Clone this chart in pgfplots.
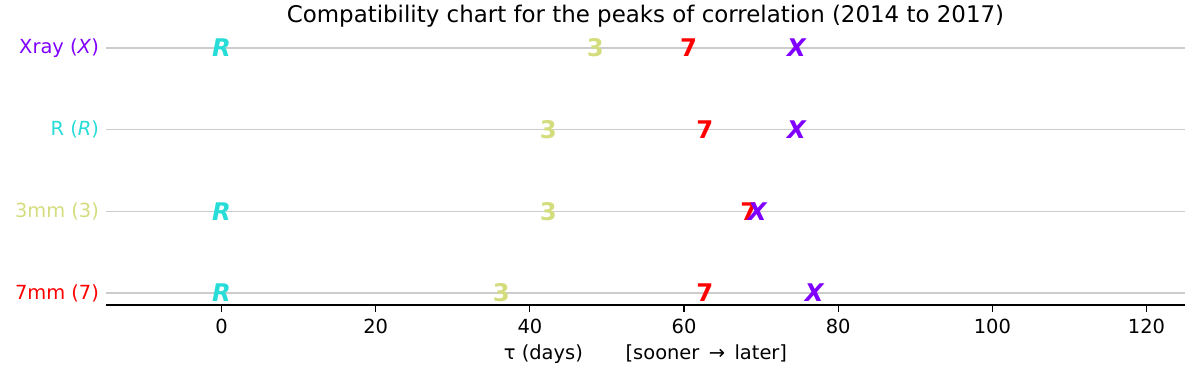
\documentclass[border=0pt]{standalone}
\usepackage{fontspec}
\setmainfont{DejaVu Sans}
\usepackage{pgfplots}
\pgfplotsset{compat=1.18}
\usetikzlibrary{calc}

\definecolor{cX}{HTML}{8000FF}
\definecolor{cR}{HTML}{28DDD8}
\definecolor{c3}{HTML}{D4DD7E}
\definecolor{c7}{HTML}{FF0000}
\newcommand{\mk}[2]{\textcolor{#1}{\fontsize{17.5}{17.5}\selectfont\bfseries #2}}

\begin{document}
\begin{tikzpicture}
\begin{axis}[
    name=ax,
    scale only axis,
    width=776.9pt, height=196.8pt,
    xmin=-15, xmax=125,
    ymin=-0.147, ymax=3.2,
    axis x line*=bottom,
    x axis line style={-, line width=0.9pt},
    axis y line*=left,
    y axis line style={draw=none},
    ytick={0,1,2,3},
    yticklabels={\textcolor{c7}{7mm (7)}, \textcolor{c3}{3mm (3)}, \textcolor{cR}{R (\textit{R})}, \textcolor{cX}{Xray (\textit{X})}},
    ytick style={draw=none},
    xtick={0,20,...,120},
    tick align=outside,
    major tick length=5pt,
    xtick style={black, line width=0.8pt},
    ymajorgrids,
    grid style={gray!40, line width=0.8pt},
    /pgf/number format/assume math mode=true,
    tick label style={font=\fontsize{14}{15}\selectfont},
    yticklabel style={xshift=3.5pt},
    xticklabel style={yshift=-1.5pt},
    title={Compatibility chart for the peaks of correlation (2014 to 2017)},
    title style={font=\fontsize{16.5}{17}\selectfont, yshift=-6.5pt},
    xlabel={τ (days)\hspace{2.2em}[sooner \,→\, later]},
    xlabel style={font=\fontsize{14}{15}\selectfont, yshift=-1pt},
    only marks,
    clip=false,
]
\addplot[color=cR, mark=text, text mark={\mk{cR}{\itshape R}}] coordinates {(0,3) (0,1) (0,0)};
\addplot[color=c3, mark=text, text mark={\mk{c3}{3}}] coordinates {(48.5,3) (42.4,2) (42.4,1) (36.3,0)};
\addplot[color=c7, mark=text, text mark={\mk{c7}{7}}] coordinates {(60.6,3) (62.7,2) (68.4,1) (62.7,0)};
\addplot[color=cX, mark=text, text mark={\mk{cX}{\itshape X}}] coordinates {(74.6,3) (74.6,2) (69.5,1) (76.9,0)};
\end{axis}
\useasboundingbox ($(ax.south west)+(-76.3pt,-47.5pt)$) rectangle ($(ax.north east)+(10.8pt,22.8pt)$);
\end{tikzpicture}
\end{document}
